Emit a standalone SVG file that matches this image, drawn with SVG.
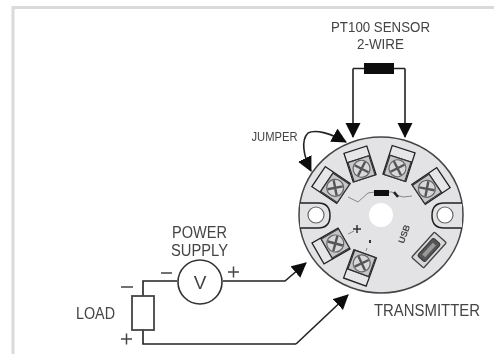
<svg xmlns="http://www.w3.org/2000/svg" width="494" height="354" viewBox="0 0 494 354">
<defs>
<filter id="soft" x="-5%" y="-5%" width="110%" height="110%"><feGaussianBlur stdDeviation="0.6"/></filter>
<marker id="arrow" markerUnits="userSpaceOnUse" markerWidth="17" markerHeight="16" refX="14" refY="7.500" orient="auto"><path d="M0 0L15 7.500L0 15Z" fill="#111"/></marker>
<g id="terminal">
<rect x="-12" y="-15" width="24" height="30" fill="#e6e6e8" stroke="#222" stroke-width="1.300"/>
<line x1="-12" y1="-5" x2="12" y2="-5" stroke="#222" stroke-width="1.300"/>
<rect x="-11" y="-5" width="22" height="20" fill="#c6c6c8" stroke="#333" stroke-width="1.200"/>
<circle cx="0" cy="5" r="8.500" fill="#d8d8da" stroke="#666" stroke-width="1.200"/>
<path d="M-5.500 -0.500L5.500 10.500M5.500 -0.500L-5.500 10.500" stroke="#555" stroke-width="2.400" fill="none"/>
</g>
</defs>
<style>
text{font-family:"Liberation Sans",Arial,sans-serif;fill:#444;font-size:16px}
.w{fill:none;stroke:#222;stroke-width:1.600}
.a{fill:none;stroke:#222;stroke-width:1.600;marker-end:url(#arrow)}
</style>
<rect width="494" height="354" fill="#fff"/>
<g filter="url(#soft)">
<g id="frame"><path d="M494 7.500H13V354" fill="none" stroke="#dadada" stroke-width="3"/></g>
<g id="transmitter">
<ellipse cx="381" cy="215" rx="82" ry="78" fill="#e3e3e5" stroke="#444" stroke-width="1.500"/>
<path d="M300 203H318Q330 203 330 215.500Q330 228 318 228H300" fill="#e3e3e5" stroke="#222" stroke-width="1.500"/>
<path d="M462 203H444Q432 203 432 215.500Q432 228 444 228H462" fill="#e3e3e5" stroke="#222" stroke-width="1.500"/>
<circle cx="316" cy="215" r="8" fill="#fff" stroke="#666" stroke-width="1.200"/>
<circle cx="445" cy="215" r="8" fill="#fff" stroke="#666" stroke-width="1.200"/>
<circle cx="381" cy="215" r="12" fill="#fff"/>
<use href="#terminal" transform="translate(360 164) rotate(-18)"/>
<use href="#terminal" transform="translate(399 163.500) rotate(18)"/>
<use href="#terminal" transform="translate(331 185) rotate(-56)"/>
<use href="#terminal" transform="translate(431 186) rotate(56)"/>
<use href="#terminal" transform="translate(331 246) rotate(-120)"/>
<use href="#terminal" transform="translate(360 268) rotate(200)"/>
<path d="M348 197L358 202L368 193L375 192M388 192H392L396 195L403 197L412 196" fill="none" stroke="#888" stroke-width="1"/>
<rect x="374" y="190" width="15" height="6" fill="#111"/>
<path d="M394 192L398 197" stroke="#222" stroke-width="2.500"/>
<path d="M353 229H361M357 225V233" stroke="#333" stroke-width="1.500"/>
<path d="M370 240V243" stroke="#333" stroke-width="2"/>
<path d="M348 234L354 231M366 251L367 248" stroke="#888" stroke-width="1"/>
<text transform="translate(407 235) rotate(-70)" text-anchor="middle" style="font-size:9px;font-weight:bold">USB</text>
<g transform="translate(429 250) rotate(-48)">
<rect x="-17" y="-8" width="34" height="16" rx="1" fill="#d8d8da" stroke="#444" stroke-width="1.300"/>
<rect x="-12" y="-5" width="24" height="10" rx="2" fill="#555" stroke="#333"/>
<rect x="-8" y="-2" width="16" height="4" fill="#999"/>
</g>
</g>
<g id="connectors">
<path class="w" d="M353 68.500H364M394 68.500H405"/>
<path class="a" d="M353 68.500V137"/>
<path class="a" d="M405 68.500V137"/>
<path class="a" d="M308 133C315 129 330 133 346 142"/>
<path class="a" d="M308 133C301 140 303 155 311 171"/>
<path class="w" d="M177 281H143V296M143 330V344H296"/>
<path class="a" d="M223 281H285L306 263"/>
<path class="a" d="M296 344L348 295"/>
</g>
<g id="sensor"><rect x="364" y="63" width="30" height="11" fill="#111"/></g>
<g id="voltmeter"><circle cx="200" cy="282" r="22" fill="#fff" stroke="#333" stroke-width="1.600"/><text x="200" y="289" text-anchor="middle" style="font-size:19px">V</text></g>
<g id="load"><rect x="132" y="296" width="22" height="34" fill="#fff" stroke="#444" stroke-width="1.800"/></g>
<g id="labels">
<text x="331" y="31.500" textLength="99" lengthAdjust="spacingAndGlyphs" style="font-size:15px">PT100 SENSOR</text>
<text x="357" y="49" textLength="47" lengthAdjust="spacingAndGlyphs" style="font-size:15px">2-WIRE</text>
<text x="251.500" y="141" textLength="46" lengthAdjust="spacingAndGlyphs" style="font-size:12.500px">JUMPER</text>
<text x="172" y="237.500" textLength="55" lengthAdjust="spacingAndGlyphs">POWER</text>
<text x="171" y="256" textLength="57" lengthAdjust="spacingAndGlyphs">SUPPLY</text>
<text x="76" y="319" textLength="39" lengthAdjust="spacingAndGlyphs">LOAD</text>
<text x="374" y="316" textLength="106" lengthAdjust="spacingAndGlyphs">TRANSMITTER</text>
<path d="M161 273H172M121 287H133M228 272H239M233.500 266.500V277.500M121 339H132M126.500 333.500V344.500" stroke="#444" stroke-width="1.500" fill="none"/>
</g>
</g>
</svg>
